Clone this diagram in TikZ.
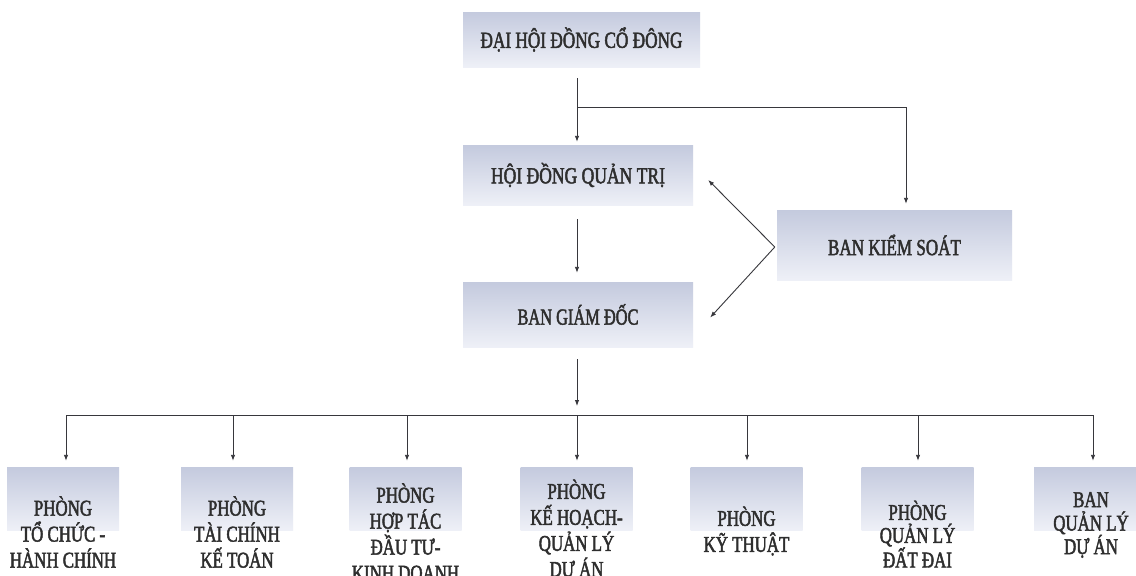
\documentclass[tikz,border=0pt]{standalone}
\usepackage{fontspec}
\usepackage{graphicx}
\setmainfont{Liberation Serif}
\newfontfamily\nf[FakeStretch=0.75,FakeBold=2]{Liberation Serif}
\newcommand{\fitw}[2]{\resizebox{#1}{\height}{#2}}
\usetikzlibrary{arrows.meta}
\definecolor{boxtop}{RGB}{196,202,222}
\definecolor{boxbot}{RGB}{238,240,247}
\definecolor{ln}{RGB}{55,55,60}
\begin{document}
\begin{tikzpicture}[x=1pt,y=-1pt,
  box/.style={rectangle, top color=boxtop, bottom color=boxbot, draw=none, inner sep=0pt},
  txt/.style={font=\nf\fontsize{23}{26}\selectfont, text=black!82, align=center},
  btxt/.style={font=\nf\fontsize{22.5}{26}\selectfont, text=black!82, align=center, inner sep=0pt},
  conn/.style={draw=ln, line width=0.9pt},
  arr/.style={conn, -{Latex[length=6pt,width=4.5pt]}}]
\useasboundingbox[fill=white] (0,0) rectangle (1136,576);

% upper boxes
\node[box, txt, minimum width=237pt, minimum height=55pt] (dhcd) at (581.5,39.5) {\fitw{202pt}{ĐẠI HỘI ĐỒNG CỔ ĐÔNG}};
\node[box, txt, minimum width=230pt, minimum height=60pt] (hdqt) at (578,175) {\fitw{174pt}{HỘI ĐỒNG QUẢN TRỊ}};
\node[box, txt, minimum width=230pt, minimum height=65pt] (bgd) at (578,314.5) {\fitw{121pt}{BAN GIÁM ĐỐC}};
\node[box, txt, minimum width=235pt, minimum height=70pt] (bks) at (894.5,245) {\fitw{133pt}{BAN KIỂM SOÁT}};

% lower boxes
\foreach \n/\x in {p1/63, p2/237, p3/405.5, p4/576.5, p5/746.5, p6/917.5, p7/1090}
  \node[box, minimum width=112pt, minimum height=63pt] (\n) at (\x,498.5) {};

\node[btxt] (t1) at (63,532) {PHÒNG\\TỔ CHỨC -\\HÀNH CHÍNH};
\node[btxt] (t2) at (237,532) {PHÒNG\\TÀI CHÍNH\\KẾ TOÁN};
\node[btxt] (t3) at (405.5,532) {PHÒNG\\HỢP TÁC\\ĐẦU TƯ-\\KINH DOANH};
\node[btxt] (t4) at (576.5,530) {PHÒNG\\KẾ HOẠCH-\\QUẢN LÝ\\DỰ ÁN};
\node[btxt] (t5) at (746.5,531) {PHÒNG\\KỸ THUẬT};
\node[btxt, font=\nf\fontsize{22.5}{23}\selectfont] (t6) at (917.5,534) {PHÒNG\\QUẢN LÝ\\ĐẤT ĐAI};
\node[btxt, font=\nf\fontsize{22.5}{23.5}\selectfont] (t7) at (1091,525) {BAN\\QUẢN LÝ\\DỰ ÁN};

% connectors
\coordinate (j1) at (577,107);
\draw[conn] ([yshift=-11pt]dhcd.south -| j1) -- (j1);
\draw[arr, shorten >=3pt] (j1) -- (hdqt.north -| j1);
\draw[arr, shorten >=6pt] (j1) -| ([xshift=11.5pt]bks.north);
\draw[arr] ([yshift=-14pt]hdqt.south -| j1) -- ([yshift=9pt]bgd.north -| j1);
\draw[arr] ([xshift=-2pt,yshift=-2pt]bks.west) -- ([xshift=15pt,yshift=-5pt]hdqt.east);
\draw[arr] ([xshift=-2pt,yshift=-2pt]bks.west) -- ([xshift=17pt,yshift=-3pt]bgd.east);

\coordinate (bus) at (577,415);
\foreach \n/\s in {p1/3pt, p2/-4pt, p3/1.5pt, p4/0.5pt, p5/0.5pt, p6/0.5pt, p7/3pt}
  \coordinate (a\n) at ([xshift=\s]\n.north);
\draw[arr, shorten >=9pt] ([yshift=-12pt]bgd.south -| bus) -- (bus);
\draw[conn] (bus -| ap1) -- (bus -| ap7);
\foreach \n in {p1,p2,p3,p4,p5,p6,p7}
  \draw[arr, shorten >=6pt] (bus -| a\n) -- (a\n);
\end{tikzpicture}
\end{document}
